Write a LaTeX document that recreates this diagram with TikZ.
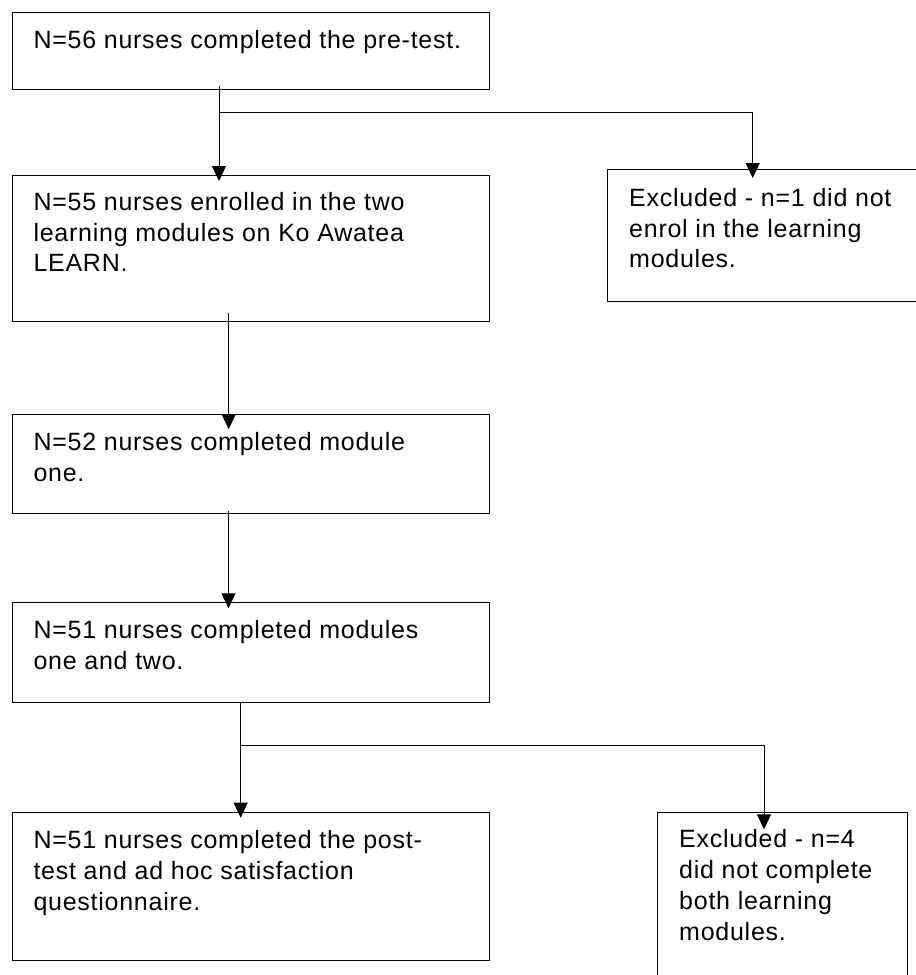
\documentclass[tikz,border=0pt]{standalone}
\usepackage{fontspec}
\setmainfont{Liberation Sans}[LetterSpace=3]
\usetikzlibrary{arrows.meta,calc}
\begin{document}
\begin{tikzpicture}[x=1pt,y=-1pt,
  stage/.style={draw=black,line width=1pt,rectangle,anchor=north west,inner sep=0pt,outer sep=0pt},
  boxtext/.style={anchor=base west,inner sep=0pt,align=left,font=\fontsize{25pt}{30.7pt}\selectfont},
  flow/.style={line width=1pt,-{Triangle[width=14pt,length=15pt]}}]
\useasboundingbox (0,0) rectangle (916,975);
\clip (0,0) rectangle (916,975);

% boxes
\node[stage,minimum width=476.3pt,minimum height=76.3pt]  (b1) at (12.7,12.7)  {};
\node[stage,minimum width=476.3pt,minimum height=145.3pt] (b2) at (12.7,175.7) {};
\node[stage,minimum width=330pt,minimum height=132.4pt]   (r1) at (607.7,169.3) {};
\node[stage,minimum width=476.3pt,minimum height=99.4pt]  (b3) at (12.7,414.3) {};
\node[stage,minimum width=476.3pt,minimum height=99.7pt]  (b4) at (12.7,602.3) {};
\node[stage,minimum width=476.3pt,minimum height=147.6pt] (b5) at (12.7,812.7) {};
\node[stage,minimum width=250.3pt,minimum height=200pt]   (r2) at (657,812.7)  {};

% texts (anchored at the baseline of the last line)
\node[boxtext] (t1) at (33.3,48.5)  {N=56 nurses completed the pre-test.};
\node[boxtext] (t2) at (33.3,271.7) {N=55 nurses enrolled in the two\\learning modules on Ko Awatea\\LEARN.};
\node[boxtext] (t3) at (629,267.7)  {Excluded - n=1 did not\\enrol in the learning\\modules.};
\node[boxtext] (t4) at (33.3,481)   {N=52 nurses completed module\\one.};
\node[boxtext] (t5) at (33.3,669)   {N=51 nurses completed modules\\one and two.};
\node[boxtext] (t6) at (33.3,910)   {N=51 nurses completed the post-\\test and ad hoc satisfaction\\questionnaire.};
\node[boxtext] (t7) at (679,940)    {Excluded - n=4\\did not complete\\both learning\\modules.};

% connector columns and junctions
\coordinate (k1) at (219,0);
\coordinate (k2) at (752.7,0);
\coordinate (k3) at (228.7,0);
\coordinate (k4) at (228.5,0);
\coordinate (k5) at (240.7,0);
\coordinate (k6) at (764,0);
\coordinate (j1) at (219,112.5);
\coordinate (j2) at (240.7,745.7);

% connectors
\draw[flow] ([yshift=3pt]b1.south -| k1) -- ([yshift=-5.3pt]b2.north -| k1);
\draw[flow] (j1) -| ([yshift=-8.7pt]r1.north -| k2);
\draw[flow] ([yshift=8.3pt]b2.south -| k3) -- ([yshift=-15pt]b3.north -| k3);
\draw[flow] ([yshift=2.7pt]b3.south -| k4) -- ([yshift=-6pt]b4.north -| k4);
\draw[flow] (b4.south -| k5) -- ([yshift=-5pt]b5.north -| k5);
\draw[flow] (j2) -| ([yshift=-16.6pt]r2.north -| k6);
\end{tikzpicture}
\end{document}
